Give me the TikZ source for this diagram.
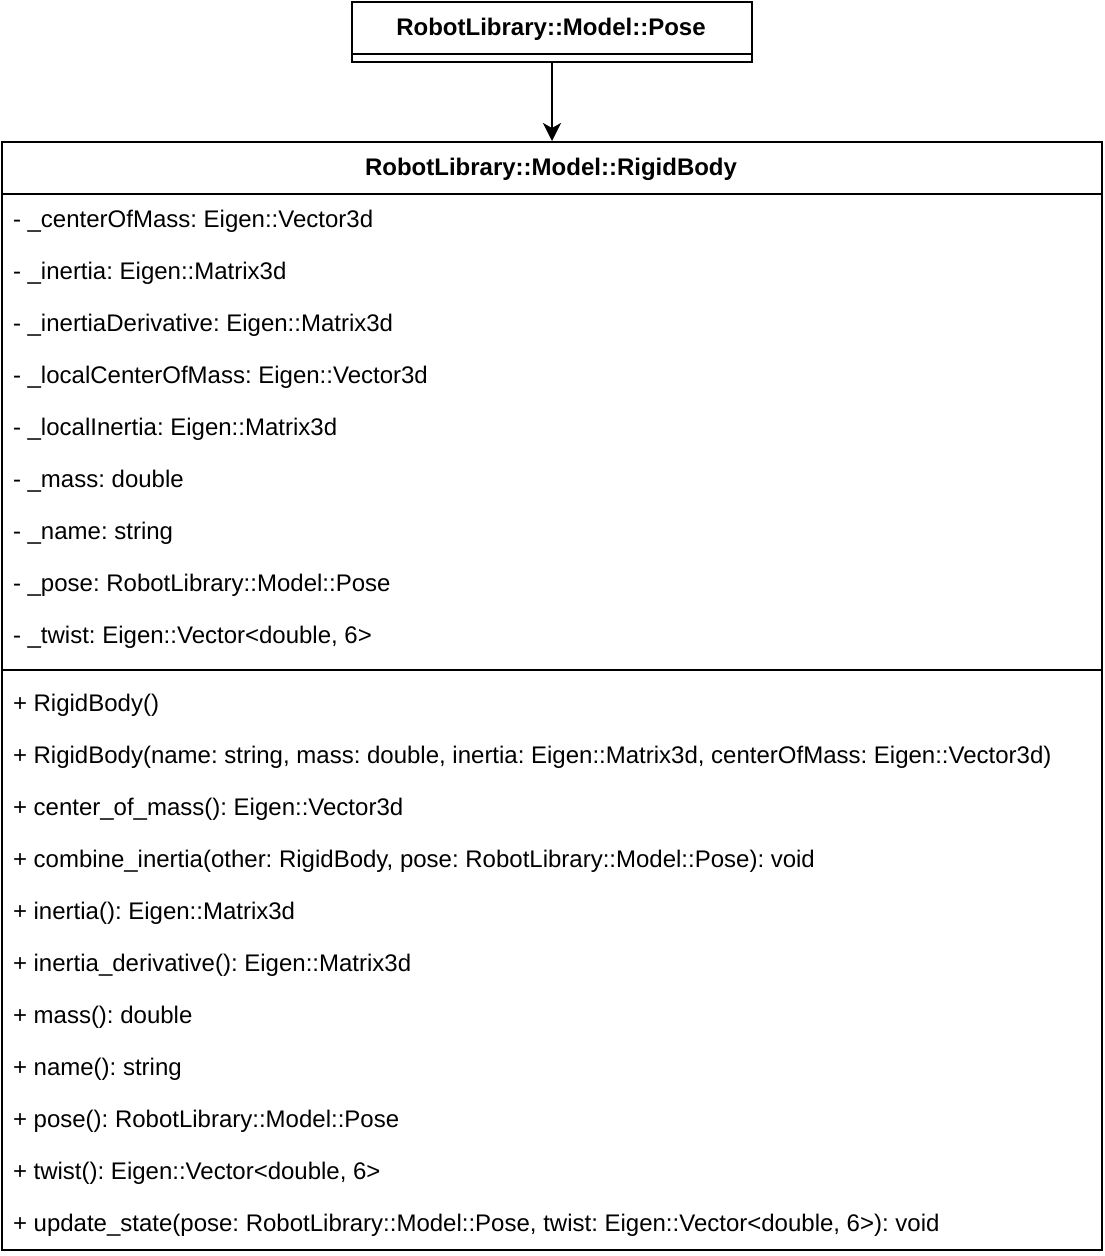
\documentclass[tikz,border=0pt]{standalone}
\usepackage{fontspec}
\setmainfont{Liberation Sans}
\usetikzlibrary{arrows.meta}
\frenchspacing
\begin{document}
\begin{tikzpicture}[x=1pt, y=-1pt, line width=2pt, font=\fontsize{24}{28}\selectfont,
  box/.style={rectangle, draw, inner sep=0pt, anchor=north west},
  row/.style={rectangle, draw=none, inner sep=0pt, anchor=base west},
  head/.style={rectangle, draw=none, inner sep=0pt, anchor=base, font=\fontsize{24}{28}\selectfont\bfseries}]
\useasboundingbox (0,0) rectangle (1104,1256);
%%%%%%%%%%%%%%%%%%%%%%%%%%%%%%% Pose class
\node[box, minimum width=400pt, minimum height=52pt](poseHead) at (351,1){};
\node[box, minimum width=400pt, minimum height=8pt](poseBody) at (351,53){};
\node[head](poseName) at (551,35.5){RobotLibrary::Model::Pose};
%%%%%%%%%%%%%%%%%%%%%%%%%%%%%%% RigidBody class
\node[box, minimum width=1100pt, minimum height=52pt](rbHead) at (1,141){};
\node[box, minimum width=1100pt, minimum height=476pt](rbAttr) at (1,193){};
\node[box, minimum width=1100pt, minimum height=580pt](rbOps) at (1,669){};
\node[head](rbName) at (551,175.5){RobotLibrary::Model::RigidBody};
\draw[-{Stealth[length=18pt, width=18pt, inset=5pt]}] (poseBody.south) -- (rbHead.north);

% attributes
\node[row](aCom) at (12,227.5){- \_centerOfMass: Eigen::Vector3d};
\node[row](aInertia) at (12,279.5){- \_inertia: Eigen::Matrix3d};
\node[row](aInertiaDer) at (12,331.5){- \_inertiaDerivative: Eigen::Matrix3d};
\node[row](aLocalCom) at (12,383.5){- \_localCenterOfMass: Eigen::Vector3d};
\node[row](aLocalInertia) at (12,435.5){- \_localInertia: Eigen::Matrix3d};
\node[row](aMass) at (12,487.5){- \_mass: double};
\node[row](aName) at (12,539.5){- \_name: string};
\node[row](aPose) at (12,591.5){- \_pose: RobotLibrary::Model::Pose};
\node[row](aTwist) at (12,643.5){- \_twist: Eigen::Vector<double, 6>};

% operations
\node[row](oCtor) at (12,711.5){+ RigidBody()};
\node[row](oCtorArgs) at (12,763.5){+ RigidBody(name: string, mass: double, inertia: Eigen::Matrix3d, centerOfMass: Eigen::Vector3d)};
\node[row](oCom) at (12,815.5){+ center\_of\_mass(): Eigen::Vector3d};
\node[row](oCombine) at (12,867.5){+ combine\_inertia(other: RigidBody, pose: RobotLibrary::Model::Pose): void};
\node[row](oInertia) at (12,919.5){+ inertia(): Eigen::Matrix3d};
\node[row](oInertiaDer) at (12,971.5){+ inertia\_derivative(): Eigen::Matrix3d};
\node[row](oMass) at (12,1023.5){+ mass(): double};
\node[row](oName) at (12,1075.5){+ name(): string};
\node[row](oPose) at (12,1127.5){+ pose(): RobotLibrary::Model::Pose};
\node[row](oTwist) at (12,1179.5){+ twist(): Eigen::Vector<double, 6>};
\node[row](oUpdate) at (12,1231.5){+ update\_state(pose: RobotLibrary::Model::Pose, twist: Eigen::Vector<double, 6>): void};
\end{tikzpicture}
\end{document}
